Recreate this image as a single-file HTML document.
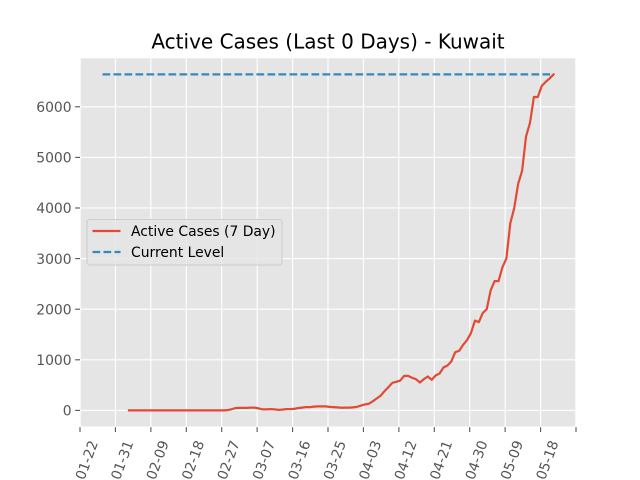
<!DOCTYPE html>
<html>
<head>
<meta charset="utf-8">
<title>Active Cases - Kuwait</title>
<style>
html,body{margin:0;padding:0;background:#fff;}
svg{display:block;font-family:"DejaVu Sans","Liberation Sans",sans-serif;}
</style>
</head>
<body>
<svg id="chart" width="640" height="480" viewBox="0 0 640 480" xmlns="http://www.w3.org/2000/svg">
  <rect x="0" y="0" width="640" height="480" fill="#ffffff"/>
  <rect x="80" y="57.6" width="496" height="369.6" fill="#E5E5E5" stroke="#ffffff" stroke-width="1.39"/>
  <g id="grid"></g>
  <g id="ticks"></g>
  <g id="series"></g>
  <text x="328" y="48.6" font-size="20" fill="#000" text-anchor="middle">Active Cases (Last 0 Days) - Kuwait</text>
  <g>
    <rect x="87" y="219.5" width="195" height="45.5" rx="2.8" fill="#E5E5E5" fill-opacity="0.8" stroke="#CCCCCC" stroke-width="1"/>
    <line x1="92.5" y1="231" x2="120.5" y2="231" stroke="#E24A33" stroke-width="2.2"/>
    <text x="131" y="236" font-size="13.9" fill="#000">Active Cases (7 Day)</text>
    <line x1="92.5" y1="252" x2="120.5" y2="252" stroke="#348ABD" stroke-width="2.2" stroke-dasharray="7.7 3.3"/>
    <text x="131" y="257" font-size="13.9" fill="#000">Current Level</text>
  </g>
</svg>
<script>
var xTickLabels = ["01-22","01-31","02-09","02-18","02-27","03-07","03-16","03-25","04-03","04-12","04-21","04-30","05-09","05-18",""];
var yTickValues = [0,1000,2000,3000,4000,5000,6000];
var activeCases = [
0,0,0,0,0,0,0,0,0,0,
0,0,0,0,0,0,0,0,0,0,
0,0,0,0,0,5,20,45,50,50,
50,55,55,40,20,20,25,20,10,15,
25,25,30,45,55,65,65,75,80,80,
80,70,65,60,53,55,55,60,70,95,
118,131,180,235,290,380,460,545,565,590,
683,683,645,617,551,617,670,604,690,730,
848,888,967,1152,1178,1297,1390,1530,1775,1745,
1925,2000,2370,2555,2555,2830,3000,3700,4000,4480,
4733,5413,5680,6193,6193,6413,6493,6560,6640];
var currentLevel = [6640];
var levelStartIndex = -6.74;

var NS = "http://www.w3.org/2000/svg";
var plot = {left:80, right:576, top:57.6, bottom:427.2};
var xMin = -12.46, xMax = 113.71;
var yMin = -332, yMax = 6972;

function xScale(i){ return plot.left + (i - xMin) / (xMax - xMin) * (plot.right - plot.left); }
function yScale(v){ return plot.bottom - (v - yMin) / (yMax - yMin) * (plot.bottom - plot.top); }
function make(tag, attrs, parent){
  var el = document.createElementNS(NS, tag);
  for (var k in attrs) el.setAttribute(k, attrs[k]);
  parent.appendChild(el);
  return el;
}

var grid = document.getElementById("grid");
var ticks = document.getElementById("ticks");
var series = document.getElementById("series");
var tickStep = (plot.right - plot.left) / (xTickLabels.length - 1);

xTickLabels.forEach(function(label, n){
  var x = plot.left + n * tickStep;
  var g = make("line", {x1:x, x2:x, y1:plot.top, y2:plot.bottom, stroke:"#fff", "stroke-width":1.11}, grid);
  
  
  var t = make("line", {x1:x, x2:x, y1:plot.bottom, y2:plot.bottom + 4.86, stroke:"#555555", "stroke-width":1.11}, ticks);
  
  
  if (label) {
    var cx = x + 6.5, cy = 460;
    var l = make("text", {x:0, y:0, "font-size":13.9, fill:"#555555", "text-anchor":"middle", transform:"translate(" + cx + "," + cy + ") rotate(-70) translate(0,5)"}, ticks);
    
    
    l.textContent = label;
  }
});

yTickValues.forEach(function(v){
  var y = yScale(v);
  var g = make("line", {x1:plot.left, x2:plot.right, y1:y, y2:y, stroke:"#fff", "stroke-width":1.11}, grid);
  
  
  var t = make("line", {x1:plot.left - 4.86, x2:plot.left, y1:y, y2:y, stroke:"#555555", "stroke-width":1.11}, ticks);
  
  
  var l = make("text", {x:plot.left - 8.4, y:y + 5.2, "font-size":13.9, fill:"#555555", "text-anchor":"end"}, ticks);
  
  
  l.textContent = String(v);
});

var pts = activeCases.map(function(v, i){ return xScale(i).toFixed(2) + "," + yScale(v).toFixed(2); }).join(" ");
var red = make("polyline", {points:pts, fill:"none", stroke:"#E24A33", "stroke-width":2.2, "stroke-linejoin":"round", "stroke-linecap":"square"}, series);



var level = currentLevel[0];
var blue = make("line", {x1:xScale(levelStartIndex), x2:xScale(activeCases.length - 1), y1:yScale(level), y2:yScale(level), stroke:"#348ABD", "stroke-width":2.2, "stroke-dasharray":"7.7 3.3"}, series);


</script>
</body>
</html>
